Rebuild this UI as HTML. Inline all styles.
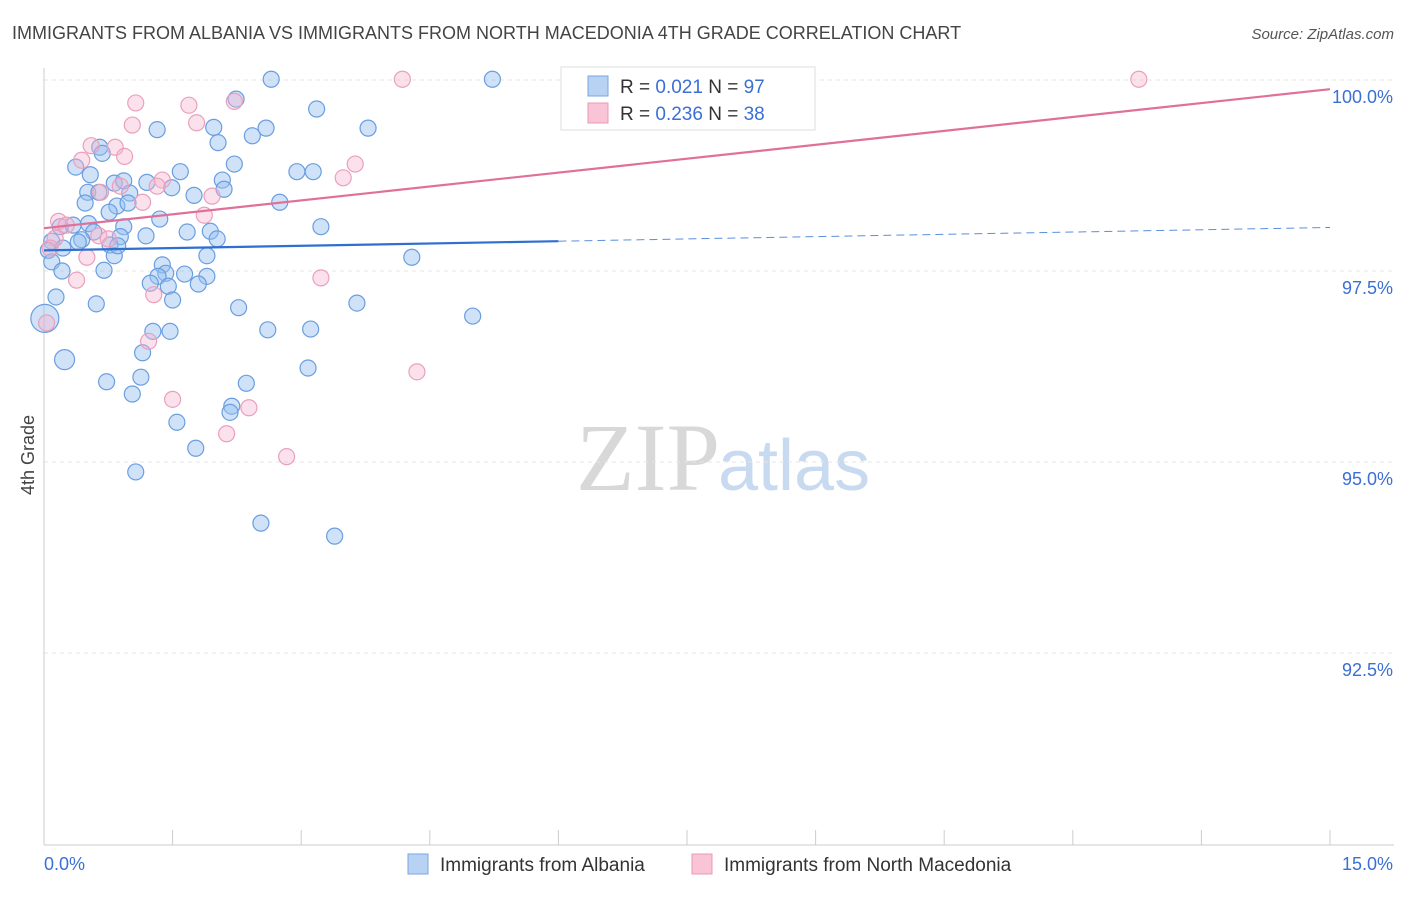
<!DOCTYPE html>
<html><head><meta charset="utf-8"><style>
body{margin:0;background:#fff;font-family:"Liberation Sans",sans-serif}
svg text{font-family:"Liberation Sans",sans-serif}
</style></head><body>
<svg id="chart" width="1406" height="892" viewBox="0 0 1406 892" xmlns="http://www.w3.org/2000/svg">
<text x="12" y="39" font-size="18" fill="#444">IMMIGRANTS FROM ALBANIA VS IMMIGRANTS FROM NORTH MACEDONIA 4TH GRADE CORRELATION CHART</text>
<text x="1394" y="39" font-size="15" fill="#555" text-anchor="end" font-style="italic">Source: ZipAtlas.com</text>
<text x="720" y="490" font-size="96" text-anchor="end" fill="#d8d8d8" font-family="Liberation Serif" style="font-family:'Liberation Serif',serif">ZIP</text>
<text x="718" y="490" font-size="72" fill="#c8daf0">atlas</text>
<g id="grid"></g>
<g id="axes"></g>
<g id="pts"></g>
<g id="trend"></g>
<text transform="translate(34,455) rotate(-90)" font-size="18" fill="#444" text-anchor="middle">4th Grade</text>
<g>
<rect x="561" y="67" width="254" height="63" fill="#fff" stroke="#ddd"/>
<rect x="588" y="76" width="20" height="20" fill="#b8d2f4" stroke="#7aa6e0"/>
<text x="620" y="93" font-size="19" fill="#333">R = <tspan fill="#3b6fd4">0.021</tspan>   N = <tspan fill="#3b6fd4">97</tspan></text>
<rect x="588" y="103" width="20" height="20" fill="#f8c4d6" stroke="#e89ab6"/>
<text x="620" y="120" font-size="19" fill="#333">R = <tspan fill="#3b6fd4">0.236</tspan>   N = <tspan fill="#3b6fd4">38</tspan></text>
</g>
<g>
<rect x="408" y="854" width="20" height="20" fill="#b8d2f4" stroke="#7aa6e0"/>
<text x="440" y="871" font-size="19" fill="#333">Immigrants from Albania</text>
<rect x="692" y="854" width="20" height="20" fill="#f8c4d6" stroke="#e89ab6"/>
<text x="724" y="871" font-size="19" fill="#333">Immigrants from North Macedonia</text>
</g>
</svg>
<script>
const yTicks=[100,97.5,95,92.5];
const yTickLabels=["100.0%","97.5%","95.0%","92.5%"];
const xTickLabels=["0.0%","15.0%"];
const blueX=[2.65,5.23,2.24,3.18,1.32,1.98,2.59,3.78,2.43,2.03,0.65,0.68,2.22,0.37,0.54,1.59,2.95,3.14,2.08,0.82,0.93,1.20,1.49,0.51,1.00,1.75,2.10,0.64,0.48,0.85,2.75,0.98,0.76,1.35,0.52,0.19,0.34,0.93,3.23,0.58,1.67,1.94,1.19,0.89,2.02,0.09,0.44,0.77,0.22,0.05,0.82,1.90,4.29,0.09,1.38,0.70,0.21,1.42,1.64,1.90,1.33,1.24,1.45,1.80,0.14,1.50,0.61,2.27,3.65,5.00,0.01,1.27,1.47,2.61,3.11,1.15,0.24,3.08,0.73,1.13,2.36,1.03,2.19,2.17,1.55,1.77,1.07,2.53,3.39,0.86,0.40];
const blueY=[100.01,100.01,99.75,99.62,99.35,99.38,99.37,99.37,99.27,99.18,99.12,99.04,98.90,98.86,98.76,98.80,98.80,98.80,98.69,98.65,98.68,98.66,98.59,98.53,98.52,98.49,98.57,98.53,98.39,98.35,98.40,98.39,98.27,98.18,98.12,98.08,98.10,98.08,98.08,98.01,98.01,98.02,97.96,97.95,97.92,97.89,97.91,97.84,97.80,97.77,97.70,97.70,97.68,97.62,97.58,97.51,97.50,97.47,97.46,97.43,97.43,97.34,97.30,97.33,97.16,97.12,97.07,97.02,97.08,96.91,96.88,96.71,96.71,96.73,96.74,96.43,96.34,96.23,96.05,96.11,96.03,95.89,95.73,95.65,95.52,95.18,94.87,94.20,94.03,97.83,97.88];
const pinkX=[4.18,8.07,12.77,1.07,1.69,2.22,1.78,1.03,0.55,0.83,0.44,0.94,3.63,3.49,1.38,1.32,0.89,0.66,1.96,1.15,1.87,0.17,0.26,0.64,0.75,0.13,0.07,0.50,3.23,0.38,1.28,1.22,4.35,1.50,2.39,2.13,2.83,0.03];
const pinkY=[100.01,100.01,100.01,99.70,99.67,99.72,99.44,99.41,99.14,99.12,98.95,99.00,98.90,98.72,98.69,98.61,98.61,98.53,98.48,98.40,98.23,98.15,98.10,97.96,97.92,97.93,97.80,97.68,97.41,97.38,97.19,96.58,96.18,95.82,95.71,95.37,95.07,96.82];
const blueTrend=[97.77,98.07];
const pinkTrend=[98.06,99.88];
const NS="http://www.w3.org/2000/svg";
const X=v=>44+v/15*1286, Y=v=>80+(100-v)/2.5*191;
function mk(t,a,p){const e=document.createElementNS(NS,t);for(const k in a)e.setAttribute(k,a[k]);p.appendChild(e);return e;}
const grid=document.getElementById('grid'),axes=document.getElementById('axes'),pts=document.getElementById('pts'),tr=document.getElementById('trend');
yTicks.forEach((t,i)=>{
 const l=mk('line',{x1:44,x2:1394,y1:Y(t),y2:Y(t),stroke:'#e4e4e4','stroke-dasharray':'4,4'},grid);
 
 
 const tx=mk('text',{x:1393,y:Y(t)+23,'font-size':18,fill:'#3b6fd4','text-anchor':'end'},axes);tx.textContent=yTickLabels[i];
 
 
});
mk('line',{x1:44,x2:44,y1:68,y2:845,stroke:'#ccc'},axes);
mk('line',{x1:44,x2:1394,y1:845,y2:845,stroke:'#ccc'},axes);
for(let i=0;i<=10;i++){mk('line',{x1:X(i*1.5),x2:X(i*1.5),y1:830,y2:845,stroke:'#ccc'},axes);}
[0,15].forEach((v,i)=>{const t=mk('text',{x:i?1393:44,y:870,'font-size':18,fill:'#3b6fd4','text-anchor':i?'end':'start'},axes);t.textContent=xTickLabels[i];
 
 });
function dots(xs,ys,fill,stroke,name){xs.forEach((x,i)=>{let r=8;if(x<0.03)r=14;else if(i===76&&name==='blue-point')r=10;
 const c=mk('circle',{cx:X(x),cy:Y(ys[i]),r:r,fill:fill,stroke:stroke,'stroke-width':1.2},pts);
 
 });}
dots(blueX,blueY,'rgba(150,190,240,0.45)','#6a9ee0','blue-point');
dots(pinkX,pinkY,'rgba(246,180,204,0.4)','#eaa0bc','pink-point');
const bs=blueTrend[0]+(blueTrend[1]-blueTrend[0])*6/15;
const b1=mk('line',{x1:X(0),y1:Y(blueTrend[0]),x2:X(6),y2:Y(bs),stroke:'#2f6fd0','stroke-width':2.2},tr);


const b2=mk('line',{x1:X(6),y1:Y(bs),x2:X(15),y2:Y(blueTrend[1]),stroke:'#5a8ee0','stroke-width':1,'stroke-dasharray':'8,5'},tr);


const p1=mk('line',{x1:X(0),y1:Y(pinkTrend[0]),x2:X(15),y2:Y(pinkTrend[1]),stroke:'#e0709a','stroke-width':2.2},tr);


</script>
</body></html>
